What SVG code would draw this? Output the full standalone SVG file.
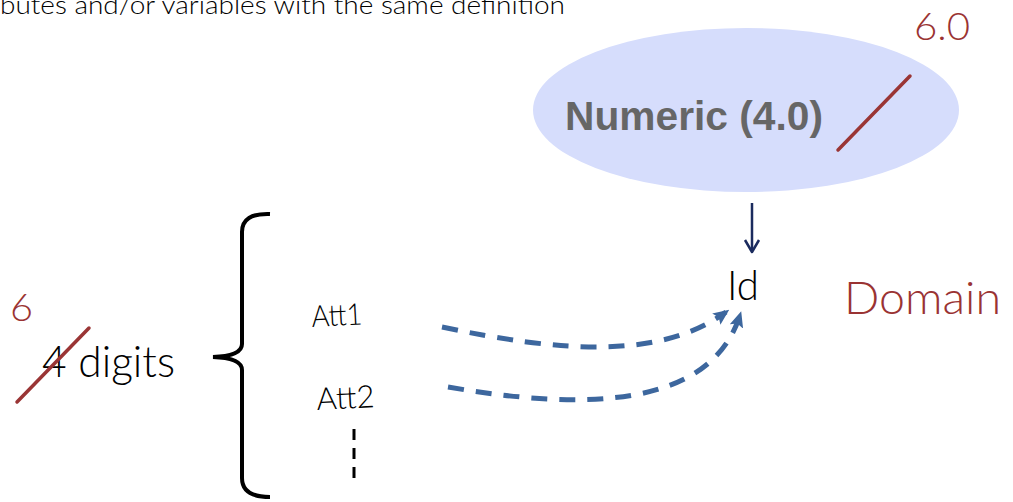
<svg xmlns="http://www.w3.org/2000/svg" width="1013" height="502" viewBox="0 0 1013 502">
<style>
.lt{font-family:"Lato","Open Sans","Liberation Sans",sans-serif;font-weight:300;fill:#000}
.red{fill:#9a3333}
.strike{stroke:#9a3535;stroke-width:3.5;stroke-linecap:round;fill:none}
.flow{stroke:#3d679e;stroke-width:5;stroke-dasharray:16 12;fill:none;marker-end:url(#ah)}
</style>
<defs>
<marker id="ah" markerUnits="userSpaceOnUse" markerWidth="16" markerHeight="14" refX="12" refY="7" orient="auto">
<path d="M0,0 L16,7 L0,14 L3,7 z" fill="#3d679e"/>
</marker>
</defs>
<rect width="1013" height="502" fill="#fff"/>
<text class="lt" x="0" y="14" font-size="25" textLength="565" lengthAdjust="spacingAndGlyphs">butes and/or variables with the same definition</text>
<g id="numeric">
<ellipse cx="746" cy="110" rx="213" ry="82" fill="#d6ddfc"/>
<text x="565" y="130" font-family="Liberation Sans,Arial,sans-serif" font-weight="bold" font-size="40" fill="#666" textLength="258" lengthAdjust="spacingAndGlyphs">Numeric (4.0)</text>
<line class="strike" x1="838" y1="150" x2="910" y2="76"/>
<text class="lt red" x="914" y="40" font-size="38" textLength="56" lengthAdjust="spacingAndGlyphs">6.0</text>
</g>
<g id="id">
<text class="lt" x="727" y="300" font-size="42" textLength="32" lengthAdjust="spacingAndGlyphs">Id</text>
</g>
<g id="domain">
<text class="lt red" x="844" y="314" font-size="45" textLength="157" lengthAdjust="spacingAndGlyphs">Domain</text>
</g>
<g id="digits">
<text class="lt red" x="10" y="321" font-size="38" textLength="23" lengthAdjust="spacingAndGlyphs">6</text>
<text class="lt" x="42" y="377" font-size="43" textLength="133" lengthAdjust="spacingAndGlyphs">4 digits</text>
<line class="strike" x1="17" y1="402" x2="89" y2="328"/>
</g>
<g id="brace">
<path d="M270,214 Q242,213 242,232 L242,344 Q242,356 213,357 Q242,358 242,370 L242,478 Q242,497 270,497" stroke="#000" stroke-width="4" fill="none"/>
</g>
<g id="att1">
<text class="lt" x="312" y="327" font-size="30" textLength="51" lengthAdjust="spacingAndGlyphs" transform="rotate(-3 312 327)">Att1</text>
</g>
<g id="att2">
<text class="lt" x="317" y="410" font-size="31" textLength="58" lengthAdjust="spacingAndGlyphs" transform="rotate(-3 317 410)">Att2</text>
<line x1="354" y1="429" x2="354" y2="480" stroke="#000" stroke-width="3" stroke-dasharray="11 8"/>
</g>
<g id="connectors">
<line x1="752" y1="203" x2="752" y2="251" stroke="#1b2b5e" stroke-width="2.5"/>
<polyline points="745,240 752,252 759,240" stroke="#1b2b5e" stroke-width="2.5" fill="none" stroke-linejoin="round"/>
<path class="flow" d="M442,327 C560,352 660,360 726,312"/>
<path class="flow" d="M448,387 C580,410 710,410 740,315"/>
</g>
</svg>
